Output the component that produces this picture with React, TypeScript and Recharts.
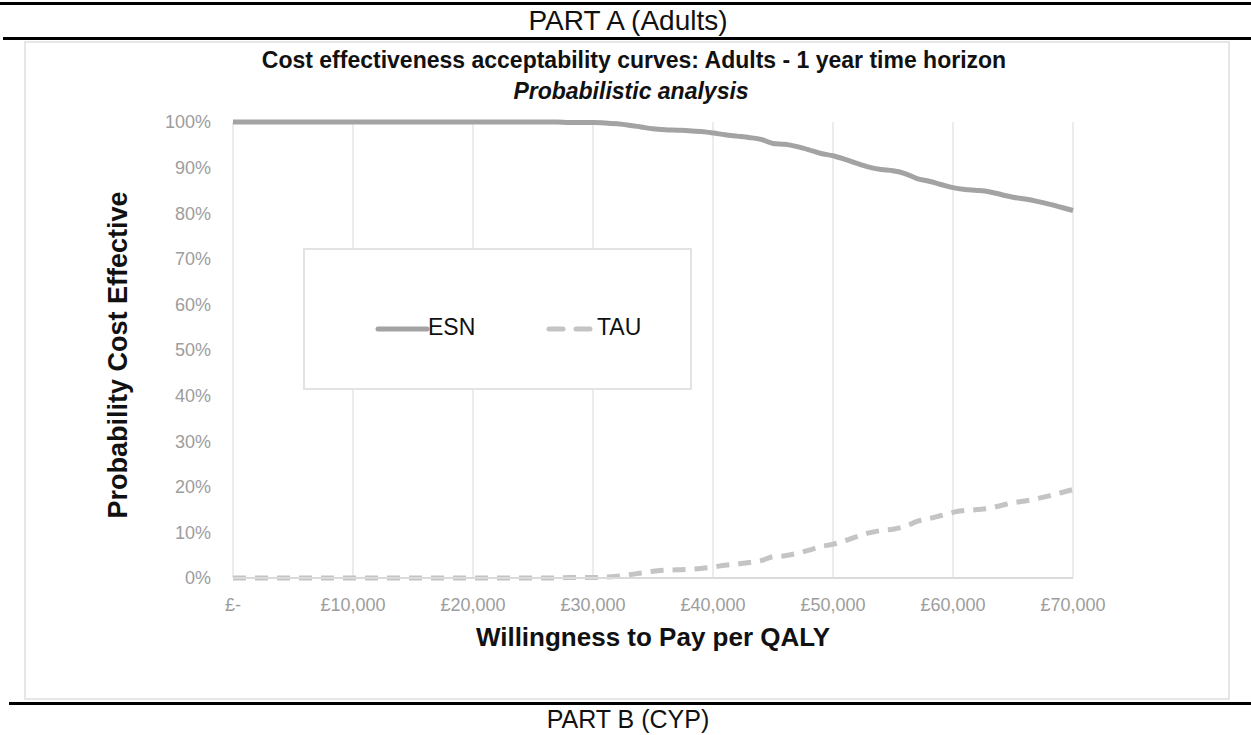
import { CartesianGrid, Legend, Line, LineChart, XAxis, YAxis } from "recharts";

// willingness to pay, £ thousands
const wtp = [
  0, 1, 2, 3, 4, 5, 6, 7, 8, 9, 10, 11, 12, 13, 14, 15, 16, 17, 18, 19, 20,
  21, 22, 23, 24, 25, 26, 27, 28, 29, 30, 31, 32, 33, 34, 35, 36, 37, 38, 39, 40,
  41, 42, 43, 44, 45, 46, 47, 48, 49, 50, 51, 52, 53, 54, 55, 56, 57, 58, 59, 60,
  61, 62, 63, 64, 65, 66, 67, 68, 69, 70,
];

const esn = [
  100, 100, 100, 100, 100, 100, 100, 100, 100, 100, 100,
  100, 100, 100, 100, 100, 100, 100, 100, 100, 100,
  100, 100, 100, 100, 100, 100, 100, 99.9, 99.9, 99.9,
  99.8, 99.6, 99.3, 98.9, 98.5, 98.3, 98.2, 98.1, 97.9, 97.6,
  97.2, 96.9, 96.6, 96.2, 95.3, 95.1, 94.6, 93.9, 93.1, 92.6,
  91.8, 90.9, 90.1, 89.6, 89.3, 88.7, 87.6, 87.0, 86.3, 85.6,
  85.2, 85.0, 84.7, 84.1, 83.5, 83.1, 82.6, 82.0, 81.3, 80.6,
];

const tau = [
  0, 0, 0, 0, 0, 0, 0, 0, 0, 0, 0,
  0, 0, 0, 0, 0, 0, 0, 0, 0, 0,
  0, 0, 0, 0, 0, 0, 0, 0.1, 0.1, 0.1,
  0.2, 0.4, 0.7, 1.1, 1.5, 1.7, 1.8, 1.9, 2.1, 2.4,
  2.8, 3.1, 3.4, 3.8, 4.7, 4.9, 5.4, 6.1, 6.9, 7.4,
  8.2, 9.1, 9.9, 10.4, 10.7, 11.3, 12.4, 13.0, 13.7, 14.4,
  14.8, 15.0, 15.3, 15.9, 16.5, 16.9, 17.4, 18.0, 18.7, 19.4,
];

const xTicks = [0, 10000, 20000, 30000, 40000, 50000, 60000, 70000];
const yTicks = [0, 10, 20, 30, 40, 50, 60, 70, 80, 90, 100];

const rows = wtp.map((k, i) => ({ wtp: k * 1000, esn: esn[i], tau: tau[i] }));

const FONT = "'Liberation Sans', Arial, sans-serif";
const ESN_COLOR = "#a3a3a3";
const TAU_COLOR = "#c4c4c4";

const fmtPound = (v: number) => (v === 0 ? "£-" : `£${v.toLocaleString("en-GB")}`);

function LegendBox() {
  return (
    <div
      style={{
        width: 389,
        height: 142,
        border: "2px solid #e3e3e3",
        background: "#fff",
        boxSizing: "border-box",
        fontFamily: FONT,
        fontSize: 23,
        color: "#111",
        position: "relative",
      }}
    >
      <svg width={60} height={10} style={{ position: "absolute", left: 70, top: 74 }}>
        <line x1={3} y1={5} x2={52} y2={5} stroke={ESN_COLOR} strokeWidth={5} strokeLinecap="round" />
      </svg>
      <span style={{ position: "absolute", left: 123, top: 64 }}>ESN</span>
      <svg width={60} height={10} style={{ position: "absolute", left: 240, top: 74 }}>
        <line x1={4} y1={5} x2={48} y2={5} stroke={TAU_COLOR} strokeWidth={5} strokeLinecap="round" strokeDasharray="14 13" />
      </svg>
      <span style={{ position: "absolute", left: 292, top: 64 }}>TAU</span>
    </div>
  );
}

export default function App() {
  return (
    <div style={{ position: "absolute", left: 0, top: 0, width: 1251, height: 735, background: "#fff", fontFamily: FONT, overflow: "hidden" }}>
      {/* document rules */}
      <div style={{ position: "absolute", left: 0, top: 2, width: 1251, height: 3, background: "#000" }} />
      <div
        style={{ position: "absolute", left: 0, top: 5, width: 1256, textAlign: "center", fontSize: 28, color: "#111", lineHeight: "32px" }}
      >
        PART A (Adults)
      </div>
      <div style={{ position: "absolute", left: 3, top: 37, width: 1248, height: 3, background: "#000" }} />

      {/* chart frame */}
      <div
        style={{ position: "absolute", left: 24, top: 41, width: 1206, height: 659, border: "2px solid #e6e6e6", boxSizing: "border-box" }}
      />

      <div style={{ position: "absolute", left: 0, top: 46, width: 1268, textAlign: "center", fontSize: 23, fontWeight: "bold", color: "#111", lineHeight: "28px" }}>
        Cost effectiveness acceptability curves: Adults - 1 year time horizon
      </div>
      <div style={{ position: "absolute", left: 0, top: 77, width: 1262, textAlign: "center", fontSize: 23, fontWeight: "bold", fontStyle: "italic", color: "#111", lineHeight: "28px" }}>
        Probabilistic analysis
      </div>

      <div style={{ position: "absolute", left: 0, top: 0 }}>
        <LineChart width={1251} height={735} data={rows} margin={{ top: 122, right: 178, bottom: 127, left: 163 }}>
          <CartesianGrid horizontal={false} stroke="#ececec" strokeWidth={2} />
          <XAxis
            dataKey="wtp"
            type="number"
            domain={[0, 70000]}
            ticks={xTicks}
            tickFormatter={fmtPound}
            axisLine={{ stroke: "#dadada", strokeWidth: 2 }}
            tickLine={false}
            height={30}
            tick={{ fill: "#9d9d9d", fontSize: 18, fontFamily: FONT }}
            tickMargin={14}
          />
          <YAxis
            type="number"
            domain={[0, 100]}
            ticks={yTicks}
            tickFormatter={(v: number) => `${v}%`}
            axisLine={false}
            tickLine={false}
            width={70}
            tick={{ fill: "#9d9d9d", fontSize: 18, fontFamily: FONT }}
            tickMargin={16}
          />
          <Legend
            layout="horizontal"
            verticalAlign="middle"
            align="center"
            content={() => <LegendBox />}
            wrapperStyle={{ position: "absolute", left: 303, top: 248, width: 389, height: 142, bottom: "auto" }}
          />
          <Line
            dataKey="esn"
            name="ESN"
            stroke={ESN_COLOR}
            strokeWidth={5}
            dot={false}
            type="monotone"
            isAnimationActive={false}
          />
          <Line
            dataKey="tau"
            name="TAU"
            stroke={TAU_COLOR}
            strokeWidth={5}
            strokeDasharray="13 9"
            dot={false}
            type="monotone"
            isAnimationActive={false}
          />
        </LineChart>
      </div>

      <div style={{ position: "absolute", left: 233, top: 622, width: 840, textAlign: "center", fontSize: 26, fontWeight: "bold", color: "#111", lineHeight: "30px" }}>
        Willingness to Pay per QALY
      </div>
      <div
        style={{
          position: "absolute",
          left: 118,
          top: 355,
          transform: "translate(-50%, -50%) rotate(-90deg)",
          whiteSpace: "nowrap",
          fontSize: 27,
          fontWeight: "bold",
          color: "#111",
        }}
      >
        Probability Cost Effective
      </div>

      <div style={{ position: "absolute", left: 9, top: 702, width: 1242, height: 3, background: "#000" }} />
      <div style={{ position: "absolute", left: 0, top: 705, width: 1256, textAlign: "center", fontSize: 25, color: "#111", lineHeight: "28px" }}>
        PART B (CYP)
      </div>
    </div>
  );
}
